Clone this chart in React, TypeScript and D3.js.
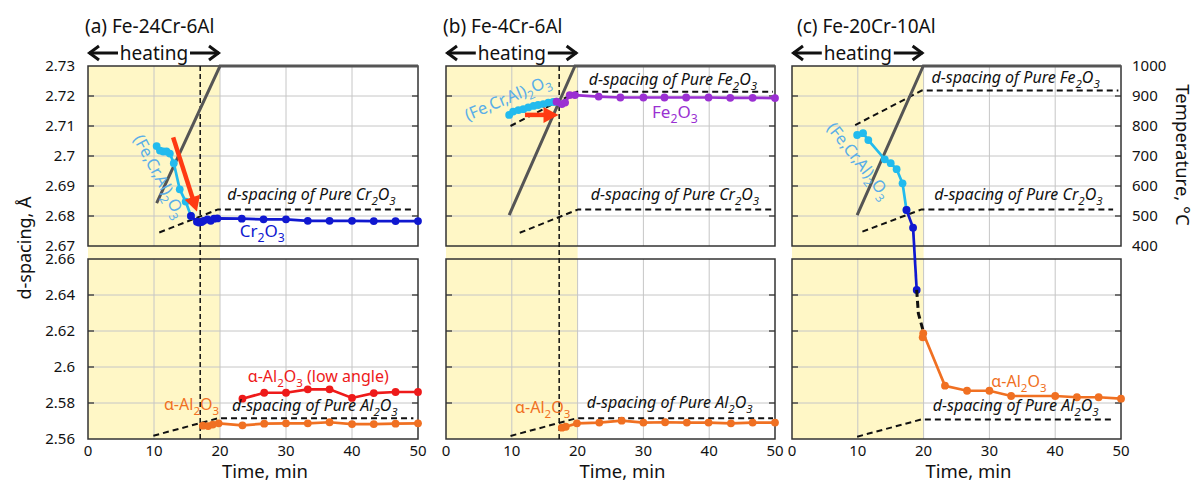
import React from 'react';
import * as d3 from 'd3';

type P = [number, number];

// ---------- axes ----------
const timeTicks = [0, 10, 20, 30, 40, 50];
const topTicks = [2.67, 2.68, 2.69, 2.7, 2.71, 2.72, 2.73];
const topTickLabels = ['2.67', '2.68', '2.69', '2.7', '2.71', '2.72', '2.73'];
const bottomTicks = [2.56, 2.58, 2.6, 2.62, 2.64, 2.66];
const bottomTickLabels = ['2.56', '2.58', '2.6', '2.62', '2.64', '2.66'];
const tempTicks = [400, 500, 600, 700, 800, 900, 1000];

// ---------- panel (a) Fe-24Cr-6Al ----------
const aTemp: P[] = [[10.4, 543], [20, 1000], [50, 1000]];
const aMixed: P[] = [[10.4, 2.7033], [10.9, 2.7018], [11.4, 2.7015], [11.9, 2.7015], [12.4, 2.7008], [13.0, 2.6976], [13.9, 2.6889], [14.8, 2.6848], [15.6, 2.680]];
const aCr2O3: P[] = [[15.6, 2.680], [16.5, 2.6781], [16.8, 2.6778], [17.2, 2.678], [17.5, 2.6784], [18.1, 2.6789], [18.6, 2.6784], [19.1, 2.6791], [19.6, 2.6792], [23.3, 2.6791], [26.6, 2.6789], [30, 2.6789], [33.3, 2.6784], [36.6, 2.6784], [40, 2.6784], [43.3, 2.6783], [46.6, 2.6783], [50, 2.6783]];
const aAlpha: P[] = [[17.4, 2.5674], [18.2, 2.5672], [18.9, 2.568], [19.8, 2.5687], [23.4, 2.5676], [26.7, 2.5685], [30, 2.5687], [33.3, 2.5687], [36.6, 2.5693], [40, 2.5683], [43.3, 2.5683], [46.6, 2.5685], [50, 2.5687]];
const aAlphaLow: P[] = [[23.4, 2.5824], [26.7, 2.5857], [30, 2.5857], [33.3, 2.5876], [36.6, 2.5876], [40, 2.5828], [43.3, 2.5855], [46.6, 2.5861], [50, 2.5861]];
const aRefCr: P[] = [[10.8, 2.6745], [19.7, 2.6822], [49.3, 2.6822]];
const aRefAl: P[] = [[9.9, 2.5618], [19.7, 2.5715], [49.3, 2.5715]];
const aArrow: P[] = [[12.9, 2.7062], [16.5, 2.6815]];

// ---------- panel (b) Fe-4Cr-6Al ----------
const bTemp: P[] = [[9.6, 503], [19.6, 1000], [50, 1000]];
const bMixed: P[] = [[9.6, 2.7137], [10.2, 2.7148], [11.0, 2.7153], [11.75, 2.7156], [12.5, 2.7162], [13.3, 2.7167], [14.0, 2.717], [14.8, 2.7173], [15.55, 2.7178], [16.3, 2.718], [16.8, 2.7181]];
const bFe2O3: P[] = [[16.8, 2.7181], [17.6, 2.7173], [18.1, 2.7178], [18.8, 2.7203], [19.6, 2.7203], [23.2, 2.7198], [26.5, 2.7195], [30, 2.7195], [33.2, 2.7195], [36.5, 2.7195], [39.9, 2.7195], [43.2, 2.7194], [46.6, 2.7194], [50, 2.7193]];
const bAlpha: P[] = [[17.6, 2.5663], [18.2, 2.5668], [19.9, 2.5687], [23.3, 2.5691], [26.7, 2.5702], [30, 2.5691], [33.3, 2.5693], [36.6, 2.5691], [39.9, 2.5691], [43.3, 2.5687], [46.6, 2.5691], [50, 2.5691]];
const bRefFe: P[] = [[9.8, 2.71], [19.9, 2.7214], [49.7, 2.7214]];
const bRefCr: P[] = [[11.2, 2.6744], [20.1, 2.6822], [49.7, 2.6822]];
const bRefAl: P[] = [[9.8, 2.5617], [19.8, 2.5715], [49.7, 2.5715]];
const bArrow: P[] = [[12.0, 2.7137], [17.1, 2.7137]];

// ---------- panel (c) Fe-20Cr-10Al ----------
const cTemp: P[] = [[9.9, 503], [19.95, 1000], [50, 1000]];
const cMixed: P[] = [[9.9, 2.707], [10.8, 2.7076], [11.6, 2.7053], [14.1, 2.6989], [15.0, 2.6976], [15.9, 2.6956], [16.8, 2.6909], [17.4, 2.682]];
const cCr2O3Top: P[] = [[17.4, 2.682], [18.4, 2.6761]];
const cCr2O3Bottom: P[] = [[18.95, 2.6428]];
const cTransition: P[] = [[18.95, 2.6428], [19.2, 2.6298], [19.9, 2.6206]];
const cAlpha: P[] = [[19.86, 2.6165], [19.95, 2.6187], [23.25, 2.5896], [26.6, 2.5868], [30, 2.5868], [33.3, 2.5839], [40, 2.5839], [43.3, 2.5832], [46.6, 2.5832], [50, 2.5824]];
const cRefFe: P[] = [[9.6, 2.7103], [19.7, 2.7218], [49.6, 2.7218]];
const cRefCr: P[] = [[10.7, 2.6748], [19.7, 2.6822], [48.8, 2.6822]];
const cRefAl: P[] = [[9.9, 2.5613], [19.7, 2.5709], [48.8, 2.5709]];

// ---------- styling ----------
const FONT = "'Noto Sans', 'Open Sans', sans-serif";
const YELLOW = '#fff7c6';
const CYAN = '#22bbee';
const CYAN_TEXT = '#5aaee8';
const BLUE = '#1018d0';
const PURPLE = '#9a30d2';
const ORANGE = '#f07022';
const RED = '#ee1a1a';
const ARROW_RED = '#ff3a12';
const GREY = '#555';
const GRID = '#c6c6c6';
const FRAME = '#333';

const TOP_Y0 = 66, TOP_Y1 = 246, BOT_Y0 = 259, BOT_Y1 = 439;

type Series = { data: P[]; plot: 'top' | 'bottom'; color: string; dashed?: boolean; markers?: boolean };
type Label = { text: string; t: number; d: number; plot: 'top' | 'bottom'; color: string; italic?: boolean; size: number; rotate?: number };

type PanelCfg = {
  key: string; title: string; x0: number; x1: number; titleDx: number;
  leftAxis: boolean; rightAxis: boolean; vline?: number; temp: P[];
  refsTop: P[][]; refsBottom: P[][]; series: Series[]; labels: Label[];
  arrow?: P[]; bridge?: { from: P; to: P; color: string };
};

const panels: PanelCfg[] = [
  {
    key: 'a', title: '(a) Fe-24Cr-6Al', x0: 88, x1: 418, titleDx: -3, leftAxis: true, rightAxis: false, vline: 17.0,
    temp: aTemp, refsTop: [aRefCr], refsBottom: [aRefAl],
    series: [
      { data: aMixed, plot: 'top', color: CYAN, markers: true },
      { data: aCr2O3, plot: 'top', color: BLUE, markers: true },
      { data: aAlpha, plot: 'bottom', color: ORANGE, markers: true },
      { data: aAlphaLow, plot: 'bottom', color: RED, markers: true },
    ],
    labels: [
      { text: 'd-spacing of Pure Cr_2O_3', t: 21.1, d: 2.6853, plot: 'top', color: '#111', italic: true, size: 16 },
      { text: 'Cr_2O_3', t: 23.0, d: 2.673, plot: 'top', color: BLUE, size: 17 },
      { text: '(Fe,Cr,Al)_2O_3', t: 6.8, d: 2.7058, plot: 'top', color: CYAN_TEXT, size: 16.5, rotate: 62 },
      { text: 'α-Al_2O_3 (low angle)', t: 24.2, d: 2.5918, plot: 'bottom', color: RED, size: 16 },
      { text: 'α-Al_2O_3', t: 11.5, d: 2.5761, plot: 'bottom', color: ORANGE, size: 16 },
      { text: 'd-spacing of Pure Al_2O_3', t: 21.8, d: 2.5757, plot: 'bottom', color: '#111', italic: true, size: 16 },
    ],
    arrow: aArrow,
  },
  {
    key: 'b', title: '(b) Fe-4Cr-6Al', x0: 446, x1: 775, titleDx: -3, leftAxis: false, rightAxis: false, vline: 17.2,
    temp: bTemp, refsTop: [bRefFe, bRefCr], refsBottom: [bRefAl],
    series: [
      { data: bMixed, plot: 'top', color: CYAN, markers: true },
      { data: bFe2O3, plot: 'top', color: PURPLE, markers: true },
      { data: bAlpha, plot: 'bottom', color: ORANGE, markers: true },
    ],
    labels: [
      { text: 'd-spacing of Pure Fe_2O_3', t: 21.7, d: 2.7237, plot: 'top', color: '#111', italic: true, size: 16 },
      { text: 'Fe_2O_3', t: 31.3, d: 2.7127, plot: 'top', color: PURPLE, size: 17 },
      { text: '(Fe,Cr,Al)_2O_3', t: 3.3, d: 2.7117, plot: 'top', color: CYAN_TEXT, size: 16.5, rotate: -23 },
      { text: 'd-spacing of Pure Cr_2O_3', t: 22.0, d: 2.6853, plot: 'top', color: '#111', italic: true, size: 16 },
      { text: 'α-Al_2O_3', t: 10.5, d: 2.5744, plot: 'bottom', color: ORANGE, size: 16 },
      { text: 'd-spacing of Pure Al_2O_3', t: 21.4, d: 2.5772, plot: 'bottom', color: '#111', italic: true, size: 16 },
    ],
    arrow: bArrow,
  },
  {
    key: 'c', title: '(c) Fe-20Cr-10Al', x0: 792, x1: 1121, titleDx: 5, leftAxis: false, rightAxis: true,
    temp: cTemp, refsTop: [cRefFe, cRefCr], refsBottom: [cRefAl],
    series: [
      { data: cMixed, plot: 'top', color: CYAN, markers: true },
      { data: cCr2O3Top, plot: 'top', color: BLUE, markers: true },
      { data: cCr2O3Bottom, plot: 'bottom', color: BLUE, markers: true },
      { data: cTransition, plot: 'bottom', color: '#111', dashed: true },
      { data: cAlpha, plot: 'bottom', color: ORANGE, markers: true },
    ],
    labels: [
      { text: 'd-spacing of Pure Fe_2O_3', t: 21.2, d: 2.7243, plot: 'top', color: '#111', italic: true, size: 16 },
      { text: 'd-spacing of Pure Cr_2O_3', t: 21.6, d: 2.6853, plot: 'top', color: '#111', italic: true, size: 16 },
      { text: '(Fe,Cr,Al)_2O_3', t: 5.2, d: 2.7093, plot: 'top', color: CYAN_TEXT, size: 16.5, rotate: 52 },
      { text: 'α-Al_2O_3', t: 30.3, d: 2.589, plot: 'bottom', color: ORANGE, size: 16 },
      { text: 'd-spacing of Pure Al_2O_3', t: 21.4, d: 2.5757, plot: 'bottom', color: '#111', italic: true, size: 16 },
    ],
    bridge: { from: cCr2O3Top[cCr2O3Top.length - 1], to: cCr2O3Bottom[0], color: BLUE },
  },
];

function chem(s: string, size: number) {
  const parts = s.split(/(_\d)/).filter((p) => p !== '');
  const shift = size * 0.3;
  let sub = false;
  return parts.map((p, i) => {
    if (p.startsWith('_')) {
      const el = <tspan key={i} fontSize={size * 0.72} dy={shift}>{p.slice(1)}</tspan>;
      sub = true;
      return el;
    }
    const el = <tspan key={i} dy={sub ? -shift : undefined}>{p}</tspan>;
    sub = false;
    return el;
  });
}

function Panel({ p }: { p: PanelCfg }) {
  const x = d3.scaleLinear().domain([0, 50]).range([p.x0, p.x1]);
  const yT = d3.scaleLinear().domain([2.67, 2.73]).range([TOP_Y1, TOP_Y0]);
  const yB = d3.scaleLinear().domain([2.56, 2.66]).range([BOT_Y1, BOT_Y0]);
  const yTemp = d3.scaleLinear().domain([400, 1000]).range([TOP_Y1, TOP_Y0]);
  const yOf = (plot: 'top' | 'bottom') => (plot === 'top' ? yT : yB);
  const lineFor = (plot: 'top' | 'bottom') => d3.line<P>().x((d) => x(d[0])).y((d) => yOf(plot)(d[1]));
  const tempLine = d3.line<P>().x((d) => x(d[0])).y((d) => yTemp(d[1]));

  const innerX = timeTicks.filter((t) => t > 0 && t < 50);
  const innerTop = topTicks.slice(1, -1);
  const innerBot = bottomTicks.slice(1, -1);

  const heatL = x(0), heatR = x(20), heatMid = (heatL + heatR) / 2, heatY = 53;

  let arrowEl = null;
  if (p.arrow) {
    const [s, e] = p.arrow;
    const x1 = x(s[0]), y1 = yT(s[1]), x2 = x(e[0]), y2 = yT(e[1]);
    const L = Math.hypot(x2 - x1, y2 - y1);
    const ux = (x2 - x1) / L, uy = (y2 - y1) / L;
    const head = 15, half = 8;
    const bx = x2 - ux * head, by = y2 - uy * head;
    const px = -uy, py = ux;
    arrowEl = (
      <g>
        <line x1={x1} y1={y1} x2={bx + ux} y2={by + uy} stroke={ARROW_RED} strokeWidth={4.5} />
        <path d={`M${x2},${y2}L${bx + px * half},${by + py * half}L${bx - px * half},${by - py * half}Z`} fill={ARROW_RED} />
      </g>
    );
  }

  return (
    <g>
      {/* heating shading */}
      <rect x={x(0)} y={TOP_Y0} width={x(20) - x(0)} height={BOT_Y1 - TOP_Y0} fill={YELLOW} />

      {/* grids */}
      {innerX.map((t) => (
        <g key={'gx' + t}>
          <line x1={x(t)} x2={x(t)} y1={TOP_Y0} y2={TOP_Y1} stroke={GRID} strokeWidth={1} />
          <line x1={x(t)} x2={x(t)} y1={BOT_Y0} y2={BOT_Y1} stroke={GRID} strokeWidth={1} />
        </g>
      ))}
      {innerTop.map((v) => (
        <g key={'gt' + v}>
          <line x1={p.x0} x2={p.x1} y1={yT(v)} y2={yT(v)} stroke={GRID} strokeWidth={1} />
          <line x1={p.x0} x2={p.x0 + 6} y1={yT(v)} y2={yT(v)} stroke={FRAME} strokeWidth={1.3} />
          <line x1={p.x1 - 6} x2={p.x1} y1={yT(v)} y2={yT(v)} stroke={FRAME} strokeWidth={1.3} />
        </g>
      ))}
      {innerBot.map((v) => (
        <g key={'gb' + v}>
          <line x1={p.x0} x2={p.x1} y1={yB(v)} y2={yB(v)} stroke={GRID} strokeWidth={1} />
          <line x1={p.x0} x2={p.x0 + 6} y1={yB(v)} y2={yB(v)} stroke={FRAME} strokeWidth={1.3} />
          <line x1={p.x1 - 6} x2={p.x1} y1={yB(v)} y2={yB(v)} stroke={FRAME} strokeWidth={1.3} />
        </g>
      ))}

      {/* frames */}
      <rect x={p.x0} y={TOP_Y0} width={p.x1 - p.x0} height={TOP_Y1 - TOP_Y0} fill="none" stroke={FRAME} strokeWidth={1.5} />
      <rect x={p.x0} y={BOT_Y0} width={p.x1 - p.x0} height={BOT_Y1 - BOT_Y0} fill="none" stroke={FRAME} strokeWidth={1.5} />

      {/* end of heating marker */}
      {p.vline !== undefined && (
        <line x1={x(p.vline)} x2={x(p.vline)} y1={TOP_Y0} y2={BOT_Y1} stroke="#111" strokeWidth={1.5} strokeDasharray="5,3" />
      )}

      {/* pure-oxide reference lines */}
      {p.refsTop.map((r, i) => (
        <path key={'rt' + i} d={lineFor('top')(r) || ''} fill="none" stroke="#111" strokeWidth={2} strokeDasharray="6,4" />
      ))}
      {p.refsBottom.map((r, i) => (
        <path key={'rb' + i} d={lineFor('bottom')(r) || ''} fill="none" stroke="#111" strokeWidth={2} strokeDasharray="6,4" />
      ))}

      {/* temperature profile */}
      <path d={tempLine(p.temp) || ''} fill="none" stroke={GREY} strokeWidth={3} />

      {/* bridge between plots */}
      {p.bridge && (
        <line x1={x(p.bridge.from[0])} y1={yT(p.bridge.from[1])} x2={x(p.bridge.to[0])} y2={yB(p.bridge.to[1])} stroke={p.bridge.color} strokeWidth={2.7} />
      )}

      {/* series */}
      {p.series.map((s, i) => (
        <g key={'s' + i}>
          <path d={lineFor(s.plot)(s.data) || ''} fill="none" stroke={s.color} strokeWidth={s.dashed ? 3 : 2.7} strokeDasharray={s.dashed ? '7,4' : undefined} />
          {s.markers && s.data.map((d, j) => (
            <circle key={j} cx={x(d[0])} cy={yOf(s.plot)(d[1])} r={3.9} fill={s.color} />
          ))}
        </g>
      ))}

      {arrowEl}

      {/* annotation labels */}
      {p.labels.map((l, i) => {
        const lx = x(l.t), ly = yOf(l.plot)(l.d);
        return (
          <text key={'l' + i} x={lx} y={ly} fontSize={l.size} fill={l.color} fontStyle={l.italic ? 'italic' : 'normal'}
            transform={l.rotate ? `rotate(${l.rotate},${lx},${ly})` : undefined}>
            {chem(l.text, l.size)}
          </text>
        );
      })}

      {/* x ticks */}
      {timeTicks.map((t) => (
        <text key={'xt' + t} x={x(t)} y={456} fontSize={15} textAnchor="middle" fill="#111">{t}</text>
      ))}
      <text x={x(25) + 12} y={478} fontSize={18.5} textAnchor="middle" fill="#111">Time, min</text>

      {/* left axis */}
      {p.leftAxis && topTicks.map((v, i) => (
        <text key={'yl' + v} x={p.x0 - 13} y={yT(v)} dy="0.36em" fontSize={15} textAnchor="end" fill="#111">{topTickLabels[i]}</text>
      ))}
      {p.leftAxis && bottomTicks.map((v, i) => (
        <text key={'yb' + v} x={p.x0 - 13} y={yB(v)} dy="0.36em" fontSize={15} textAnchor="end" fill="#111">{bottomTickLabels[i]}</text>
      ))}
      {/* right temperature axis */}
      {p.rightAxis && tempTicks.map((v) => (
        <text key={'tr' + v} x={p.x1 + 11} y={yTemp(v)} dy="0.36em" fontSize={15} textAnchor="start" fill="#111">{v}</text>
      ))}

      {/* title */}
      <text x={p.x0 + p.titleDx} y={33} fontSize={19} fill="#111">{p.title}</text>

      {/* heating arrow */}
      <text x={heatMid} y={heatY + 6.5} fontSize={19} textAnchor="middle" fill="#111">heating</text>
      <line x1={heatL + 1} x2={heatMid - 36} y1={heatY} y2={heatY} stroke="#111" strokeWidth={3} />
      <line x1={heatMid + 36} x2={heatR - 1} y1={heatY} y2={heatY} stroke="#111" strokeWidth={3} />
      <polyline points={`${heatL + 11},${heatY - 7} ${heatL + 1.5},${heatY} ${heatL + 11},${heatY + 7}`} fill="none" stroke="#111" strokeWidth={3} />
      <polyline points={`${heatR - 11},${heatY - 7} ${heatR - 1.5},${heatY} ${heatR - 11},${heatY + 7}`} fill="none" stroke="#111" strokeWidth={3} />
    </g>
  );
}

export default function App() {
  return (
    <svg width={1195} height={483} style={{ position: 'absolute', left: 0, top: 0 }} fontFamily={FONT}>
      <rect width={1195} height={483} fill="#fff" />
      {panels.map((p) => <Panel key={p.key} p={p} />)}
      <text transform="translate(31,248) rotate(-90)" textAnchor="middle" fontSize={18} fill="#111">d-spacing, Å</text>
      <text transform="translate(1176,155) rotate(90)" textAnchor="middle" fontSize={18.5} fill="#111">Temperature, °C</text>
    </svg>
  );
}
